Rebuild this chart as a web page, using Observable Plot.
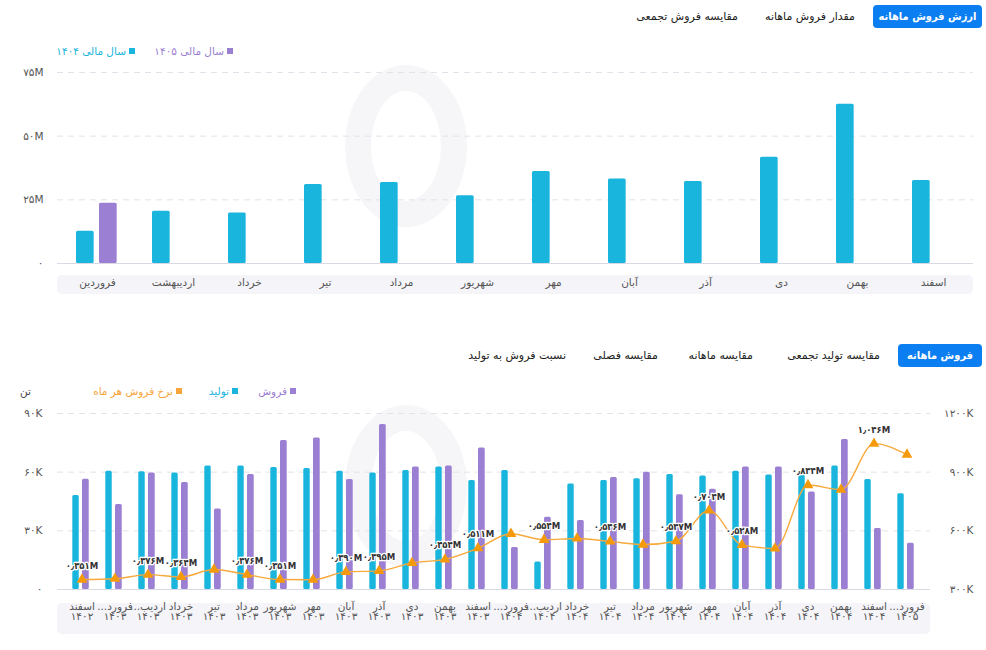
<!DOCTYPE html>
<html lang="fa">
<head>
<meta charset="utf-8">
<script src="https://cdn.jsdelivr.net/npm/d3@7"></script>
<script src="https://cdn.jsdelivr.net/npm/@observablehq/plot@0.6"></script>
<style>
  html, body { margin: 0; padding: 0; background: #fff; }
  body { width: 986px; height: 650px; position: relative; overflow: hidden;
         font-family: "DejaVu Sans", "Noto Sans", sans-serif; color: #222; }
  .abs { position: absolute; }
  .btn { background: #0b7ef1; color: #fff; border-radius: 4px; font-size: 11px; font-weight: bold;
         font-family: "DejaVu Sans Condensed", "DejaVu Sans", sans-serif;
         display: flex; align-items: center; justify-content: center; direction: rtl; }
  .tab { font-size: 11px; color: #222; direction: rtl; white-space: nowrap; }
  .leg { font-size: 10.5px; direction: rtl; white-space: nowrap; display: flex; align-items: center; gap: 3px; }
  .sq { width: 6px; height: 6px; display: inline-block; }
  .band { background: #f4f4f9; border-radius: 5px; }
  .logo { border: 26px solid #f6f6f9; border-radius: 50%; }
  svg { position: absolute; left: 0; overflow: visible; }
</style>
</head>
<body>
<!-- faint watermark shapes (decoration only) -->
<div class="abs logo" style="left:345px;top:65px;width:70px;height:110px;"></div>
<div class="abs logo" style="left:345px;top:405px;width:70px;height:110px;"></div>

<!-- top tabs -->
<div class="abs btn" style="left:873px;top:5px;width:109px;height:23px;">ارزش فروش ماهانه</div>
<div class="abs tab" style="right:131px;top:10px;">مقدار فروش ماهانه</div>
<div class="abs tab" style="right:248px;top:10px;">مقایسه فروش تجمعی</div>
<!-- top legend -->
<div class="abs leg" style="right:753px;top:45px;color:#9b7fd2;"><span class="sq" style="background:#9b7fd2"></span>سال مالی ۱۴۰۵</div>
<div class="abs leg" style="right:851px;top:45px;color:#1ab5dd;"><span class="sq" style="background:#1ab5dd"></span>سال مالی ۱۴۰۴</div>
<div class="abs band" style="left:57px;top:275px;width:916px;height:19px;"></div>
<div id="chart1" class="abs" style="left:0;top:60px;width:986px;height:250px;"></div>

<!-- bottom tabs -->
<div class="abs btn" style="left:898px;top:344px;width:84px;height:23px;">فروش ماهانه</div>
<div class="abs tab" style="right:106px;top:349px;">مقایسه تولید تجمعی</div>
<div class="abs tab" style="right:233px;top:349px;">مقایسه ماهانه</div>
<div class="abs tab" style="right:328px;top:349px;">مقایسه فصلی</div>
<div class="abs tab" style="right:420px;top:349px;">نسبت فروش به تولید</div>
<!-- bottom legend -->
<div class="abs leg" style="right:690px;top:385px;color:#9b7fd2;"><span class="sq" style="background:#9b7fd2"></span>فروش</div>
<div class="abs leg" style="right:748px;top:385px;color:#1ab5dd;"><span class="sq" style="background:#1ab5dd"></span>تولید</div>
<div class="abs leg" style="right:804px;top:385px;color:#f7a43a;"><span class="sq" style="background:#f7a43a"></span>نرخ فروش هر ماه</div>
<div class="abs tab" style="left:20px;top:385px;font-size:10.5px;color:#444;">تن</div>
<div class="abs band" style="left:57px;top:603px;width:873px;height:31px;"></div>
<div id="chart2" class="abs" style="left:0;top:400px;width:986px;height:250px;"></div>

<script>
// ---------- data: top chart (sales value, million) ----------
const months = ["فروردین","اردیبهشت","خرداد","تیر","مرداد","شهریور","مهر","آبان","آذر","دی","بهمن","اسفند"];
const value1404 = [12.7, 20.5, 19.8, 31.0, 31.8, 26.6, 36.1, 33.2, 32.2, 41.7, 62.5, 32.6];
const value1405 = [23.7, null, null, null, null, null, null, null, null, null, null, null];
const topTicks = [0, 25, 50, 75];

// ---------- data: bottom chart (tons, and rate in thousands) ----------
const periodMonths = ["اسفند","فروردین","اردیبهشت","خرداد","تیر","مرداد","شهریور","مهر","آبان","آذر","دی","بهمن","اسفند",
  "فروردین","اردیبهشت","خرداد","تیر","مرداد","شهریور","مهر","آبان","آذر","دی","بهمن","اسفند","فروردین"];
const periodYears = ["1402","1403","1403","1403","1403","1403","1403","1403","1403","1403","1403","1403","1403",
  "1404","1404","1404","1404","1404","1404","1404","1404","1404","1404","1404","1404","1405"];
const production = [48100, 60500, 60200, 59600, 63200, 63200, 62400, 61900, 60500, 59600, 60800, 62700, 55700,
  60800, 14000, 54000, 55700, 56600, 58800, 58100, 60500, 58600, 58600, 63200, 56200, 48900];
const sales = [56400, 43500, 59600, 54700, 41200, 58800, 76200, 77500, 56200, 84400, 62700, 63200, 72400,
  21500, 37000, 35300, 57300, 60000, 48400, 51300, 62700, 62700, 49900, 76700, 31200, 23700];
const rate = [351, 355, 376, 364, 402, 376, 351, 350, 390, 395, 436, 454, 511,
  585, 554, 561, 546, 530, 547, 704, 528, 510, 834, 811, 1046, 990];
const labeledPoints = [0, 2, 3, 5, 6, 8, 9, 11, 12, 14, 16, 18, 19, 20, 22, 24];
const leftTicks = [0, 30000, 60000, 90000];
const rightTicks = [300, 600, 900, 1200];

// ---------- helpers ----------
const faDigits = "۰۱۲۳۴۵۶۷۸۹";
const fa = s => String(s).replace(/\d/g, d => faDigits[d]).replace(/\./g, "٫");
const shortName = n => n.length > 6 ? n.slice(0, 5) + "...\u200F" : n;

const CYAN = "#1ab5dd", PURPLE = "#9b7fd2", ORANGE = "#f8a93c", TRI = "#f59b0b";
const GRID = "#e2e2ea", BASE = "#d9d9e3";
const FONT = '"DejaVu Sans", "Noto Sans", sans-serif';
const CFONT = '"DejaVu Sans Condensed", "DejaVu Sans", sans-serif';

// ---------- chart 1 ----------
const top1 = months.map((m, i) => ({m, v1404: value1404[i], v1405: value1405[i]}));
const bw1 = 916 / 12;
const chart1 = Plot.plot({
  width: 986, height: 250,
  marginLeft: 57, marginRight: 13, marginTop: 12, marginBottom: 47,
  style: {fontFamily: FONT, fontSize: "10.5px", color: "#555", background: "transparent", overflow: "visible"},
  x: {domain: months, padding: 0, tickSize: 0, tickPadding: 15, label: null},
  y: {domain: [0, 75], ticks: topTicks, tickSize: 0, tickPadding: 14, label: null,
      tickFormat: d => fa(d) + (d === 0 ? "" : "M")},
  marks: [
    Plot.ruleY(topTicks.filter(d => d > 0), {stroke: GRID, strokeDasharray: "6,5"}),
    Plot.ruleY([0], {stroke: BASE}),
    Plot.barY(top1, {x: "m", y: "v1404", fill: CYAN, insetLeft: 17, insetRight: bw1 - 35, rx: 1.5}),
    Plot.barY(top1.filter(d => d.v1405 != null), {x: "m", y: "v1405", fill: PURPLE, insetLeft: 40, insetRight: bw1 - 58, rx: 1.5})
  ]
});
document.getElementById("chart1").append(chart1);

// ---------- chart 2 ----------
const idx = d3.range(periodMonths.length);
const rows = idx.map(i => ({i, prod: production[i], sale: sales[i], rate: rate[i], yr: (rate[i] - 300) * 100}));
const bw2 = 873 / 26;
const chart2 = Plot.plot({
  width: 986, height: 250,
  marginLeft: 57, marginRight: 56, marginTop: 13, marginBottom: 61,
  style: {fontFamily: FONT, fontSize: "10.5px", color: "#555", background: "transparent", overflow: "visible"},
  x: {domain: idx, padding: 0, tickSize: 0, tickPadding: 13, label: null,
      tickFormat: i => shortName(periodMonths[i]) + "\n" + fa(periodYears[i])},
  y: {domain: [0, 90000], ticks: leftTicks, tickSize: 0, tickPadding: 15, label: null,
      tickFormat: d => d === 0 ? "۰" : fa(d / 1000) + "K"},
  marks: [
    Plot.ruleY(leftTicks.filter(d => d > 0), {stroke: GRID, strokeDasharray: "6,5"}),
    Plot.ruleY([0], {stroke: BASE}),
    Plot.barY(rows, {x: "i", y: "prod", fill: CYAN, insetLeft: 7.3, insetRight: bw2 - 14.3, rx: 1.5}),
    Plot.barY(rows, {x: "i", y: "sale", fill: PURPLE, insetLeft: 17, insetRight: bw2 - 24.3, rx: 1.5}),
    Plot.line(rows, {x: "i", y: "yr", stroke: ORANGE, strokeWidth: 1.4, curve: "monotone-x"}),
    Plot.dot(rows, {x: "i", y: "yr", symbol: "triangle", fill: TRI, r: 4}),
    Plot.text(rows.filter(d => labeledPoints.includes(d.i)), {
      x: "i", y: "yr", dy: -14, text: d => fa((d.rate / 1000).toFixed(3)) + "M",
      fill: "#333", stroke: "white", strokeWidth: 2.5, fontWeight: "bold", fontSize: 9.5,
      fontFamily: CFONT
    }),
    Plot.text(rightTicks, {y: d => (d - 300) * 100, text: d => fa(d) + "K", frameAnchor: "right",
      dx: 43, textAnchor: "end", fill: "#555", fontSize: 10.5})
  ]
});
document.getElementById("chart2").append(chart2);
</script>
</body>
</html>
